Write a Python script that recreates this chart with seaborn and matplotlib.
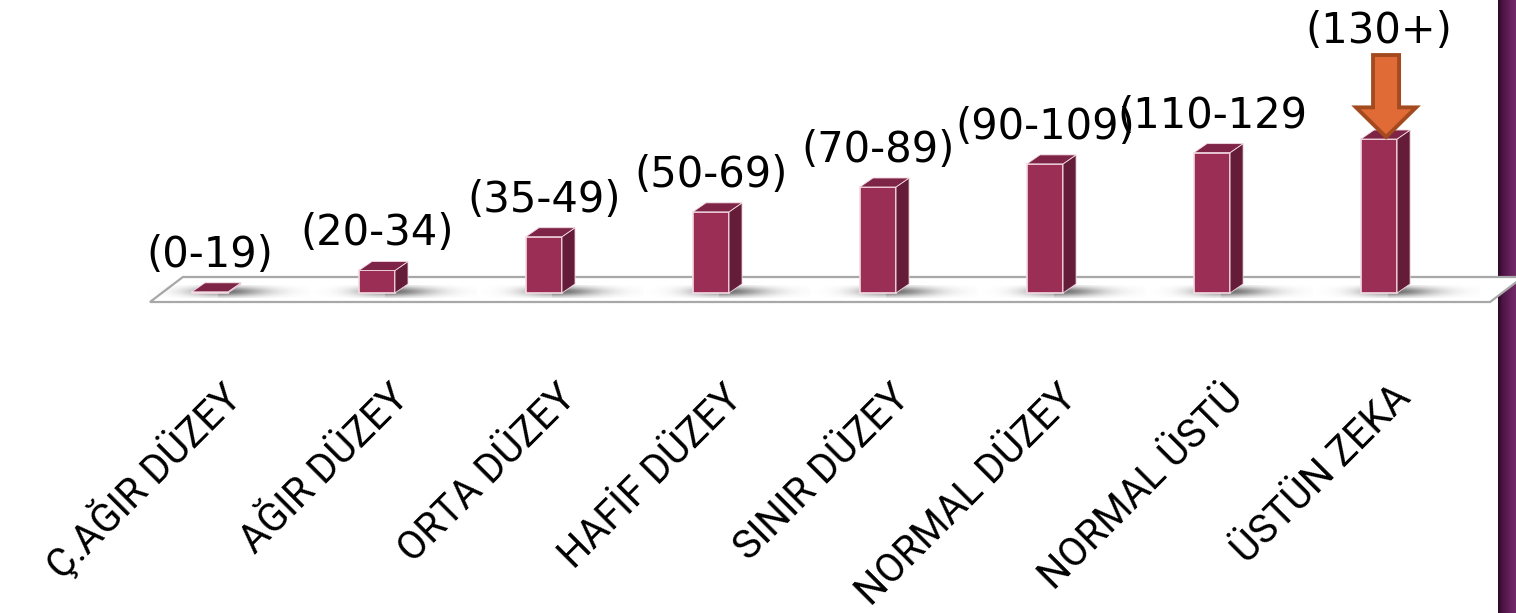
import numpy as np
import pandas as pd
import matplotlib
matplotlib.use("Agg")
import matplotlib.pyplot as plt
import seaborn as sns
from matplotlib.patches import Polygon, FancyArrow
from matplotlib.colors import LinearSegmentedColormap

# ---- data ----
categories = ["Ç.AĞIR DÜZEY", "AĞIR DÜZEY", "ORTA DÜZEY", "HAFİF DÜZEY",
              "SINIR DÜZEY", "NORMAL DÜZEY", "NORMAL ÜSTÜ", "ÜSTÜN ZEKA"]
values = [0.2, 3.8, 9.5, 13.7, 17.9, 21.8, 23.7, 26.0]
range_labels = ["(0-19)", "(20-34)", "(35-49)", "(50-69)", "(70-89)",
                "(90-109)", "(110-129", "(130+)"]

# ---- style ----
FRONT = "#9b2e55"
SIDE = "#641c38"
TOP = "#7e2446"
EDGE = "#f3dbe3"
FLOOR_EDGE = "#a8a8a8"

sns.set_theme(style="white")
plt.rcParams["font.family"] = ["DejaVu Sans"]

fig = plt.figure(figsize=(15.16, 6.13), dpi=100)

# purple strip at right edge (background)
sax = fig.add_axes([1498 / 1516, 0, 18 / 1516, 1], zorder=0)
strip = LinearSegmentedColormap.from_list(
    "strip", ["#2c0926", "#4c1443", "#5b1b52", "#68235e", "#742b67"])
sax.imshow(np.linspace(0, 1, 64)[None, :], aspect="auto", cmap=strip,
           extent=(0, 1, 0, 1))
sax.set_axis_off()

ax = fig.add_axes([0, 0, 1, 1], zorder=1)
ax.patch.set_alpha(0)

df = pd.DataFrame({"cat": categories, "val": values})
sns.barplot(data=df, x="cat", y="val", color=FRONT, saturation=1,
            width=0.216, ax=ax, zorder=3, edgecolor=EDGE, linewidth=1.2)

ax.set_xlim(-1.257, 7.820)
ax.set_ylim(-54.03, 49.47)
ax.set_axis_off()

dx, dy = 0.078, 1.52

# floor
floor = Polygon([(-0.359, -1.52), (-0.162, 2.70), (7.862, 2.70), (7.665, -1.52)],
                closed=True, facecolor="white", edgecolor=FLOOR_EDGE,
                linewidth=1.6, zorder=1, clip_on=False)
ax.add_patch(floor)

# shadows
xs = np.linspace(-1, 1, 200)
prof = np.where(xs > 0, np.exp(-(xs / 0.5) ** 2), 0.7 * np.exp(-(xs / 0.35) ** 2))
ys = np.linspace(0, 1, 30)
vprof = np.exp(-((ys - 0.5) / 0.38) ** 2)
alpha = 0.95 * vprof[:, None] * prof[None, :]
shadow = np.zeros((30, 200, 4))
shadow[..., :3] = 0.38
shadow[..., 3] = alpha

for p in list(ax.patches):
    if p is floor:
        continue
    x0 = p.get_x()
    w = p.get_width()
    h = p.get_height()
    cx = x0 + w / 2
    ax.imshow(shadow, extent=(cx - 0.5, cx + 0.6, -0.9, 1.2), aspect="auto",
              zorder=2, interpolation="bilinear")
    x1 = x0 + w
    side = Polygon([(x1, 0), (x1 + dx, dy), (x1 + dx, h + dy), (x1, h)],
                   closed=True, facecolor=SIDE, edgecolor=EDGE, linewidth=0.6,
                   zorder=3)
    top = Polygon([(x0, h), (x0 + dx, h + dy), (x1 + dx, h + dy), (x1, h)],
                  closed=True, facecolor=TOP, edgecolor=EDGE, linewidth=0.6,
                  zorder=3)
    ax.add_patch(side)
    ax.add_patch(top)

ax.set_xlim(-1.257, 7.820)
ax.set_ylim(-54.03, 49.47)

# value range labels
for i, (v, lab) in enumerate(zip(values, range_labels)):
    off = 14.7 if i == len(values) - 1 else 2.7
    ax.text(i, v + off, lab, ha="center", va="bottom", fontsize=30,
            color="black", zorder=5)

# category labels
for i, cat in enumerate(categories):
    ax.text(i + 0.20, -18.0, cat, ha="right", va="baseline", rotation=45,
            rotation_mode="anchor", fontsize=28.5, color="black", zorder=5,
            family=["Roboto", "DejaVu Sans"])

# arrow above the last bar
last = len(values) - 1
tip = values[last] + 0.34
tail = tip + 13.84
arr = FancyArrow(last + 0.042, tail, 0, -(tail - tip), width=0.156,
                 head_width=0.36, head_length=5.0, length_includes_head=True,
                 facecolor="#e06b36", edgecolor="#a44a1f", linewidth=2.8,
                 zorder=6)
ax.add_patch(arr)

fig.savefig("out.png", dpi=100)
